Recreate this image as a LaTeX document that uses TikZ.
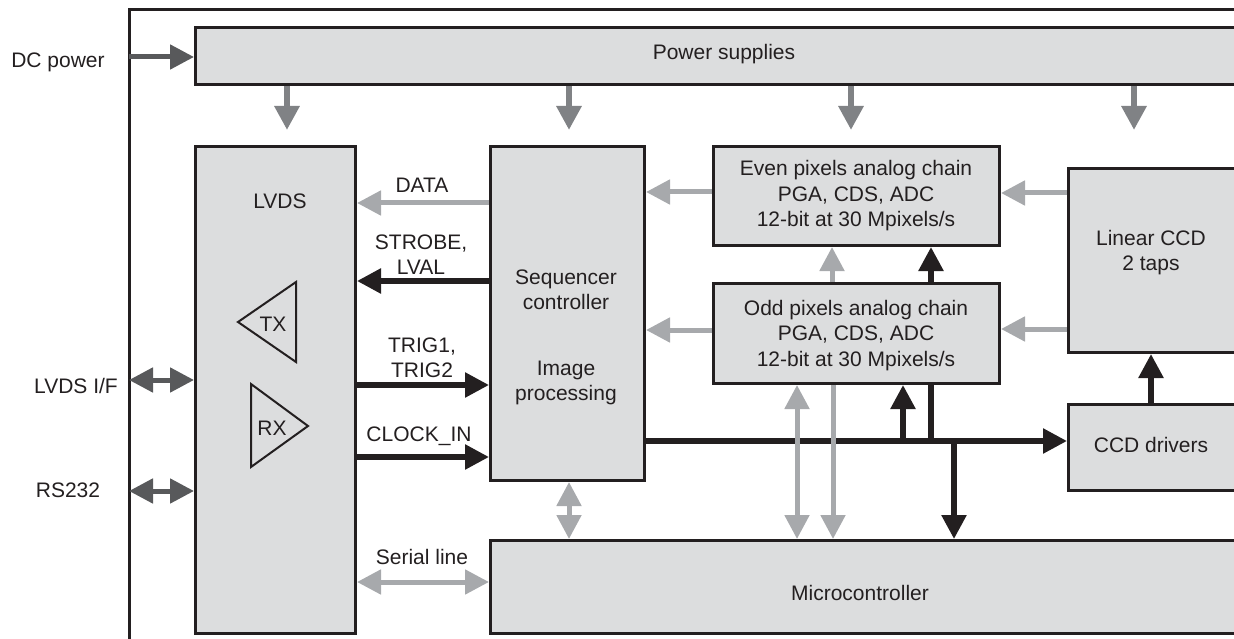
\documentclass[tikz,border=0pt]{standalone}
\usepackage{fontspec}
\setmainfont{Liberation Sans}
\usetikzlibrary{arrows.meta,backgrounds}
\definecolor{boxgray}{HTML}{DCDDDE}
\definecolor{lgray}{HTML}{A7A9AC}
\definecolor{mgray}{HTML}{808285}
\definecolor{dgray}{HTML}{58595B}
\definecolor{ink}{HTML}{231F20}
\begin{document}
\begin{tikzpicture}[x=1pt,y=-1pt,
  box/.style={draw=ink, fill=boxgray, line width=3pt, anchor=north west, inner sep=0pt},
  lbl/.style={anchor=base, inner sep=0pt, text=ink, font=\fontsize{21}{25.5}\selectfont},
  tip/.style={-{Triangle[length=24pt,width=24pt]}},
  tips/.style={{Triangle[length=24pt,width=24pt]}-{Triangle[length=24pt,width=24pt]}},
  la/.style={draw=lgray, line width=5pt},
  ma/.style={draw=mgray, line width=6pt},
  da/.style={draw=dgray, line width=5pt},
  ka/.style={draw=ink, line width=5.5pt},
  trig/.style={draw=ink, line width=2pt, line join=miter}
]
\useasboundingbox (0,0) rectangle (1234,639);
\clip (0,0) rectangle (1234,639);

% outer frame
\draw[ink, line width=3pt] (129,10) rectangle (1300,700);

% boxes
\node[box, minimum width=1066pt, minimum height=57pt] (pwr) at (194,26) {};
\node[box, minimum width=160pt, minimum height=487pt] (lvds) at (194,145) {};
\node[box, minimum width=154pt, minimum height=334pt] (seq) at (489,145) {};
\node[box, minimum width=286pt, minimum height=99pt] (even) at (712,145) {};
\node[box, minimum width=286pt, minimum height=100pt] (odd) at (712,282) {};
\node[box, minimum width=193pt, minimum height=184pt] (lccd) at (1067,167) {};
\node[box, minimum width=193pt, minimum height=86pt] (ccdd) at (1067,403) {};
\node[box, minimum width=771pt, minimum height=93pt] (micro) at (489,539) {};

% TX / RX triangles
\draw[trig] (238,322) -- (296,282) -- (296,362) -- cycle;
\draw[trig] (251,384) -- (251,467) -- (308,426) -- cycle;

% texts
\node[lbl] (tpwr) at (724,60) {Power supplies};
\node[lbl] (tdc) at (58,68) {DC power};
\node[lbl] (tif) at (76,393) {LVDS I/F};
\node[lbl] (t232) at (68,497) {RS232};
\node[lbl] (tlvds) at (280,209) {LVDS};
\node[lbl] (ttx) at (273,331) {TX};
\node[lbl] (trx) at (272,435) {RX};
\node[lbl] (tdata) at (422,193) {DATA};
\node[lbl] (tstrobe) at (421,249) {\begin{tabular}[t]{@{}c@{}}STROBE,\\LVAL\end{tabular}};
\node[lbl] (ttrig) at (422,352) {\begin{tabular}[t]{@{}c@{}}TRIG1,\\TRIG2\end{tabular}};
\node[lbl] (tclk) at (419,441) {CLOCK\_IN};
\node[lbl] (tser) at (422,564) {Serial line};
\node[lbl] (tseq) at (566,284) {\begin{tabular}[t]{@{}c@{}}Sequencer\\controller\end{tabular}};
\node[lbl] (timg) at (566,375) {\begin{tabular}[t]{@{}c@{}}Image\\processing\end{tabular}};
\node[lbl] (teven) at (856,176) {\begin{tabular}[t]{@{}c@{}}Even pixels analog chain\\PGA, CDS, ADC\\12-bit at 30 Mpixels/s\end{tabular}};
\node[lbl] (todd) at (856,315) {\begin{tabular}[t]{@{}c@{}}Odd pixels analog chain\\PGA, CDS, ADC\\12-bit at 30 Mpixels/s\end{tabular}};
\node[lbl] (tlin) at (1151,245) {\begin{tabular}[t]{@{}c@{}}Linear CCD\\2 taps\end{tabular}};
\node[lbl] (tdrv) at (1151,452) {CCD drivers};
\node[lbl] (tmic) at (860,600) {Microcontroller};

% helper coordinates
\coordinate (dcin) at (129,57);
\coordinate (ifin) at (129,380);
\coordinate (rsin) at (129,491);
\coordinate (p1) at (287,130);
\coordinate (p2) at (569,130);
\coordinate (p3) at (851,130);
\coordinate (p4) at (1134,130);
\coordinate (yData) at (0,203);
\coordinate (yStrobe) at (0,281);
\coordinate (yTrig) at (0,385);
\coordinate (yClk) at (0,457);
\coordinate (ySer) at (0,582);
\coordinate (yEven) at (0,192);
\coordinate (yOdd) at (0,330);
\coordinate (yLinE) at (0,193);
\coordinate (yLinO) at (0,329);
\coordinate (yBus) at (0,441);
\coordinate (xOE) at (832,0);
\coordinate (j1) at (903,441);
\coordinate (j2) at (931,441);
\coordinate (j3) at (954,441);
\coordinate (xG1) at (797,0);
\coordinate (xG2) at (833,0);
\coordinate (xSM) at (569,0);
\coordinate (xDrv) at (1151,0);

% external inputs
\draw[da,tip] (dcin) -- (dcin -| pwr.west);
\draw[da,tips] (ifin) -- (ifin -| lvds.west);
\draw[da,tips] (rsin) -- (rsin -| lvds.west);

% power drops
\foreach \p in {p1,p2,p3,p4} \draw[ma,tip] (\p |- pwr.south) -- (\p);

% LVDS <-> sequencer
\draw[la,tip] (seq.west |- yData) -- (lvds.east |- yData);
\draw[ka,tip] (seq.west |- yStrobe) -- (lvds.east |- yStrobe);
\draw[ka,tip] (lvds.east |- yTrig) -- (seq.west |- yTrig);
\draw[ka,tip] (lvds.east |- yClk) -- (seq.west |- yClk);
\draw[la,tips] (lvds.east |- ySer) -- (micro.west |- ySer);

% analog chains
\draw[la,tip] (even.west |- yEven) -- (seq.east |- yEven);
\draw[la,tip] (odd.west |- yOdd) -- (seq.east |- yOdd);
\draw[la,tip] (lccd.west |- yLinE) -- (even.east |- yLinE);
\draw[la,tip] (lccd.west |- yLinO) -- (odd.east |- yLinO);
\draw[la,tip] (odd.north -| xOE) -- (even.south -| xOE);

% bus
\begin{scope}[on background layer]
\draw[ka,tip] (j2) -- (even.south -| j2);
\end{scope}
\draw[ka,tip] (seq.east |- yBus) -- (ccdd.west |- yBus);
\draw[ka,tip] (j1) -- (odd.south -| j1);
\draw[ka,tip] (j3) -- (micro.north -| j3);
\draw[ka,tip] (ccdd.north -| xDrv) -- (lccd.south -| xDrv);

% microcontroller links
\draw[la,tips] (odd.south -| xG1) -- (micro.north -| xG1);
\draw[la,tip] (odd.south -| xG2) -- (micro.north -| xG2);
\draw[la,tips] (seq.south -| xSM) -- (micro.north -| xSM);
\end{tikzpicture}
\end{document}
